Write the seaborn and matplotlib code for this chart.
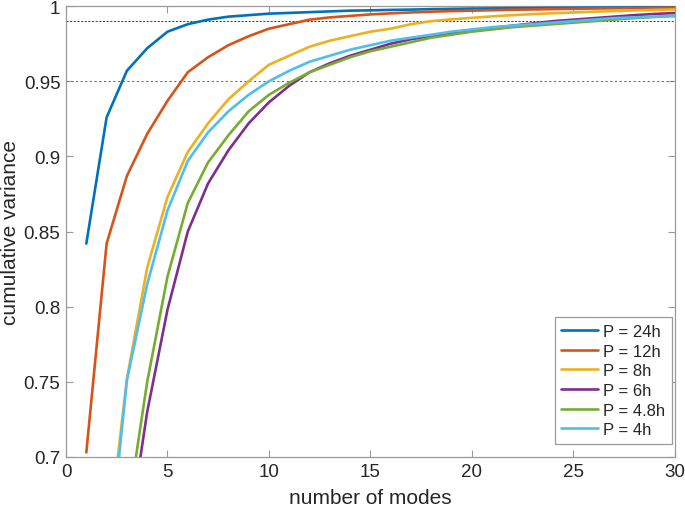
import numpy as np
import pandas as pd
import matplotlib
matplotlib.use("Agg")
import matplotlib.pyplot as plt
import seaborn as sns

modes = list(range(1, 31))
labels = ["P = 24h", "P = 12h", "P = 8h", "P = 6h", "P = 4.8h", "P = 4h"]
colors = ["#0072BD", "#D95319", "#EDB120", "#7E2F8E", "#77AC30", "#4DBEEE"]

p24 = [0.842, 0.926, 0.957, 0.972, 0.983, 0.988, 0.991, 0.993, 0.994, 0.995,
       0.9955, 0.996, 0.9965, 0.997, 0.9972, 0.9975, 0.9977, 0.998, 0.9982, 0.9984,
       0.9985, 0.9986, 0.9987, 0.9988, 0.9989, 0.999, 0.9991, 0.9992, 0.9993, 0.9994]
p12 = [0.703, 0.842, 0.887, 0.915, 0.937, 0.956, 0.966, 0.974, 0.980, 0.985,
       0.988, 0.991, 0.9925, 0.9935, 0.9945, 0.9952, 0.9958, 0.9963, 0.9967, 0.997,
       0.9973, 0.9976, 0.9978, 0.998, 0.9982, 0.9984, 0.9986, 0.9987, 0.9988, 0.999]
p8 = [0.45, 0.636, 0.752, 0.826, 0.873, 0.903, 0.922, 0.938, 0.950, 0.961,
      0.967, 0.973, 0.977, 0.980, 0.983, 0.985, 0.988, 0.990, 0.9912, 0.9922,
      0.9932, 0.994, 0.9947, 0.9953, 0.9958, 0.9963, 0.9967, 0.9971, 0.9975, 0.9978]
p6 = [0.35, 0.52, 0.64, 0.730, 0.798, 0.850, 0.882, 0.904, 0.922, 0.936,
      0.947, 0.956, 0.962, 0.967, 0.971, 0.975, 0.978, 0.980, 0.982, 0.984,
      0.9855, 0.987, 0.9885, 0.990, 0.991, 0.992, 0.993, 0.994, 0.9948, 0.9954]
p48 = [0.38, 0.54, 0.66, 0.750, 0.820, 0.869, 0.896, 0.914, 0.930, 0.941,
       0.949, 0.956, 0.961, 0.966, 0.970, 0.973, 0.976, 0.979, 0.981, 0.983,
       0.9845, 0.986, 0.987, 0.988, 0.989, 0.990, 0.991, 0.992, 0.9928, 0.9935]
p4 = [0.45, 0.62, 0.751, 0.815, 0.864, 0.897, 0.916, 0.930, 0.941, 0.950,
      0.957, 0.963, 0.967, 0.971, 0.974, 0.977, 0.979, 0.981, 0.983, 0.9845,
      0.986, 0.987, 0.988, 0.989, 0.990, 0.991, 0.992, 0.9925, 0.993, 0.9935]
thresholds = [0.99, 0.95]

series = [p24, p12, p8, p6, p48, p4]
df = pd.concat([pd.DataFrame({"modes": modes, "var": s, "P": lab})
                for s, lab in zip(series, labels)], ignore_index=True)

sns.set_theme(style="white")
plt.rcParams["font.family"] = ["Liberation Sans", "DejaVu Sans"]

fig = plt.figure(figsize=(6.85, 5.10), dpi=100)
ax = fig.add_axes([0.0964, 0.102, 0.8886, 0.884])

ax.axhline(thresholds[0], color="#444444", lw=0.75, ls=(0, (2, 1.5)), zorder=1)
ax.axhline(thresholds[1], color="#666666", lw=0.75, ls=(0, (2, 2.5)), zorder=1)

sns.lineplot(data=df, x="modes", y="var", hue="P", hue_order=labels,
             palette=colors, lw=1.9, ax=ax, zorder=3)

ax.set_xlim(0, 30)
ax.set_ylim(0.7, 1.0)
ax.set_xticks([0, 5, 10, 15, 20, 25, 30])
ax.set_yticks([0.7, 0.75, 0.8, 0.85, 0.9, 0.95, 1.0])
ax.set_yticklabels(["0.7", "0.75", "0.8", "0.85", "0.9", "0.95", "1"])
ax.set_xlabel("number of modes", fontsize=15, color="#262626", labelpad=6)
ax.set_ylabel("cumulative variance", fontsize=15, color="#262626", labelpad=3)
ax.tick_params(direction="in", length=5, width=0.8, colors="#9a9a9a",
               labelsize=13.5, top=True, right=True, bottom=True, left=True,
               labelcolor="#262626", pad=4)
for sp in ax.spines.values():
    sp.set_color("#9a9a9a")
    sp.set_linewidth(0.9)

leg = ax.legend(loc="lower right", bbox_to_anchor=(0.995, 0.029),
                borderaxespad=0, fontsize=12, frameon=True, fancybox=False,
                edgecolor="#9a9a9a", framealpha=1, handlelength=2.2,
                handletextpad=0.3, labelspacing=0.28, borderpad=0.4)
leg.get_frame().set_linewidth(0.9)
for line in leg.get_lines():
    line.set_linewidth(1.9)
for txt in leg.get_texts():
    txt.set_color("#262626")

fig.savefig("out.png", dpi=100)
